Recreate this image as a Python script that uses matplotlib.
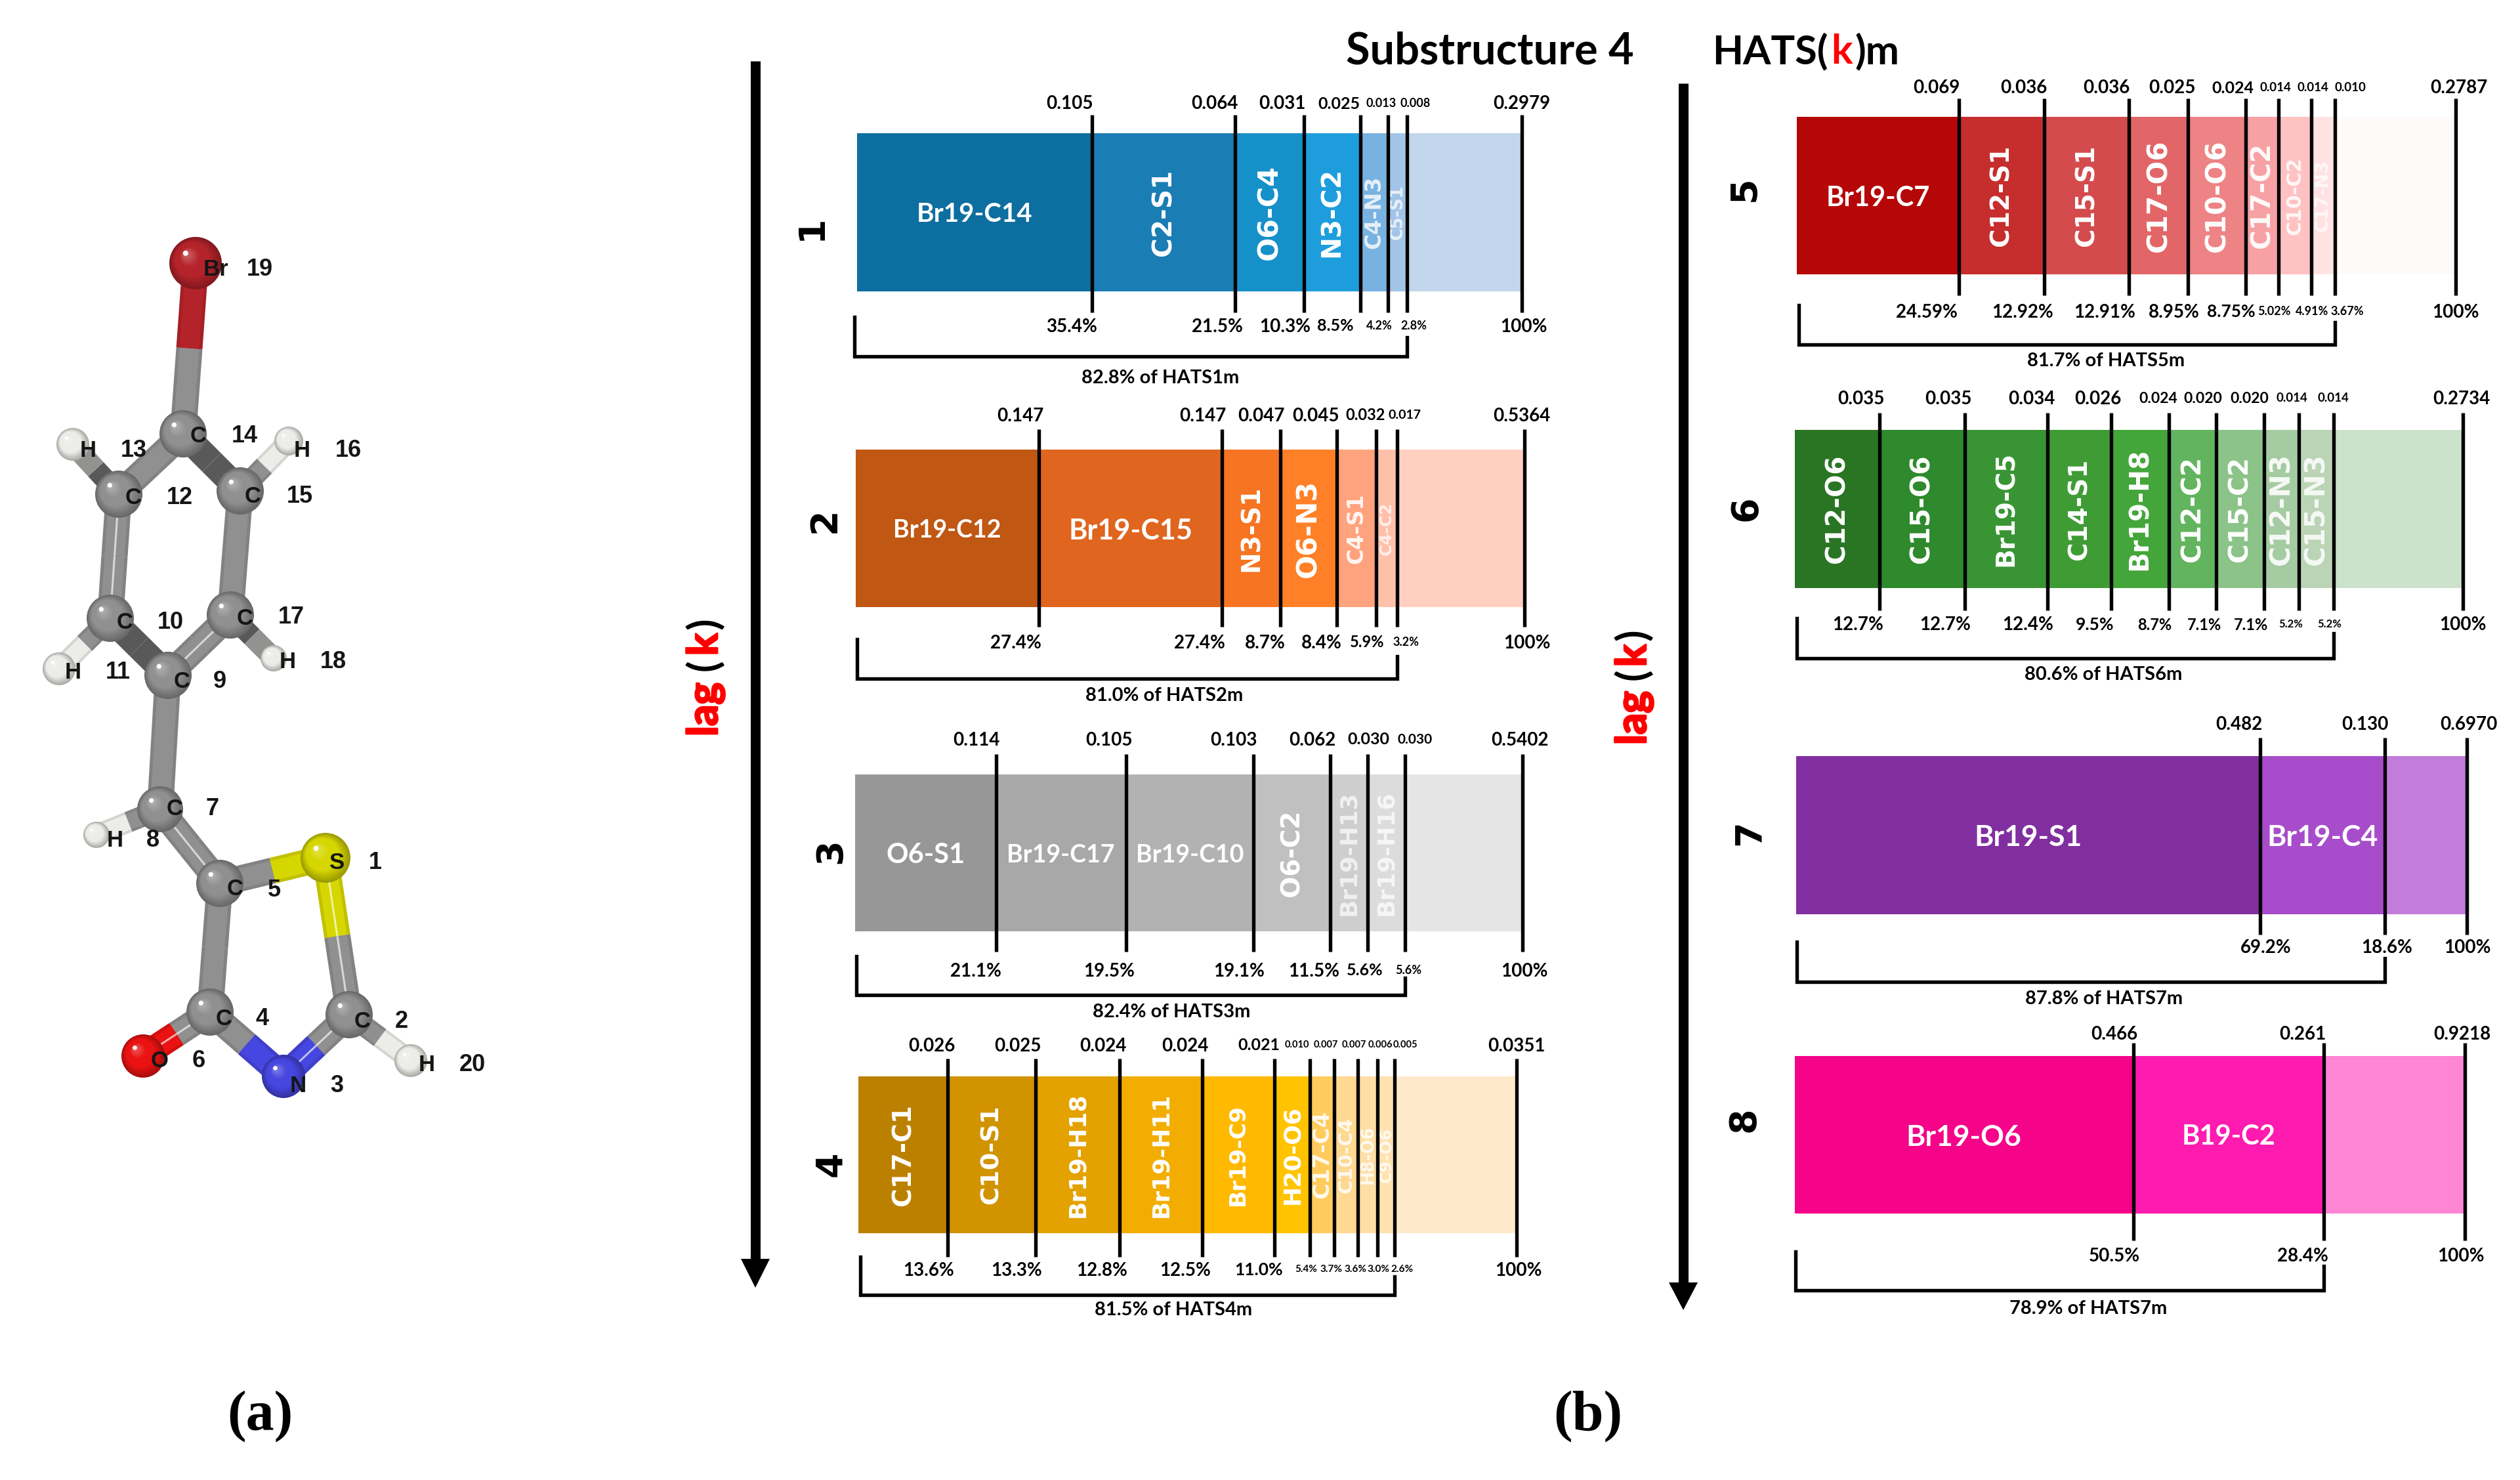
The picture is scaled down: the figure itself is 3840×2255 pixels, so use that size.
import numpy as np
import matplotlib
matplotlib.use('Agg')
import matplotlib.pyplot as plt
import matplotlib.patheffects as pe
from matplotlib.colors import to_rgb
from matplotlib.patches import Circle, Polygon

plt.rcParams['font.family'] = ['Lato', 'DejaVu Sans']

# ---- data ----
pairs1 = ['Br19-C14', 'C2-S1', 'O6-C4', 'N3-C2', 'C4-N3', 'C5-S1']
values1 = ['0.105', '0.064', '0.031', '0.025', '0.013', '0.008']
shares1 = [35.4, 21.5, 10.3, 8.5, 4.2, 2.8]

pairs2 = ['Br19-C12', 'Br19-C15', 'N3-S1', 'O6-N3', 'C4-S1', 'C4-C2']
values2 = ['0.147', '0.147', '0.047', '0.045', '0.032', '0.017']
shares2 = [27.4, 27.4, 8.7, 8.4, 5.9, 3.2]

pairs3 = ['O6-S1', 'Br19-C17', 'Br19-C10', 'O6-C2', 'Br19-H13', 'Br19-H16']
values3 = ['0.114', '0.105', '0.103', '0.062', '0.030', '0.030']
shares3 = [21.1, 19.5, 19.1, 11.5, 5.6, 5.6]

pairs4 = ['C17-C1', 'C10-S1', 'Br19-H18', 'Br19-H11', 'Br19-C9', 'H20-O6', 'C17-C4', 'C10-C4', 'H8-O6', 'C9-O6']
values4 = ['0.026', '0.025', '0.024', '0.024', '0.021', '0.010', '0.007', '0.007', '0.006', '0.005']
shares4 = [13.6, 13.3, 12.8, 12.5, 11.0, 5.4, 3.7, 3.6, 3.0, 2.6]

pairs5 = ['Br19-C7', 'C12-S1', 'C15-S1', 'C17-O6', 'C10-O6', 'C17-C2', 'C10-C2', 'C17-N3']
values5 = ['0.069', '0.036', '0.036', '0.025', '0.024', '0.014', '0.014', '0.010']
shares5 = [24.59, 12.92, 12.91, 8.95, 8.75, 5.02, 4.91, 3.67]

pairs6 = ['C12-O6', 'C15-O6', 'Br19-C5', 'C14-S1', 'Br19-H8', 'C12-C2', 'C15-C2', 'C12-N3', 'C15-N3']
values6 = ['0.035', '0.035', '0.034', '0.026', '0.024', '0.020', '0.020', '0.014', '0.014']
shares6 = [12.7, 12.7, 12.4, 9.5, 8.7, 7.1, 7.1, 5.2, 5.2]

pairs7 = ['Br19-S1', 'Br19-C4']
values7 = ['0.482', '0.130']
shares7 = [69.2, 18.6]

pairs8 = ['Br19-O6', 'B19-C2']
values8 = ['0.466', '0.261']
shares8 = [50.5, 28.4]

totals = ['0.2979', '0.5364', '0.5402', '0.0351', '0.2787', '0.2734', '0.6970', '0.9218']
captions = ['82.8% of HATS1m', '81.0% of HATS2m', '82.4% of HATS3m', '81.5% of HATS4m',
            '81.7% of HATS5m', '80.6% of HATS6m', '87.8% of HATS7m', '78.9% of HATS7m']

# ---- colours ----
colors1 = ['#0D6EA0', '#1A7DB4', '#1690C8', '#1E9DDC', '#78B2E0', '#A2C4E8', '#C1D6EB']
colors2 = ['#C05713', '#E0651E', '#F67422', '#FF8026', '#FFA37E', '#FFC0AA', '#FFCFC0']
colors3 = ['#979797', '#A8A8A8', '#B2B2B2', '#C0C0C0', '#CECECE', '#DCDCDC', '#E5E5E5']
colors4 = ['#BC8000', '#D19300', '#E3A200', '#F2AD00', '#FFB900', '#FFC300', '#FFCB5C', '#FFD891', '#FFDEA6', '#FFE2B0', '#FFE9CB']
colors5 = ['#B50707', '#C62D2D', '#D44B4D', '#E26667', '#ED8385', '#F7A1A4', '#FFC2C2', '#FFE3E3', '#FFFAFA']
colors6 = ['#2A7523', '#2E8A2C', '#399533', '#3F9C35', '#44A63A', '#62B45E', '#8BC388', '#A5CBA2', '#BAD4B5', '#CCE2CB']
colors7 = ['#812FA0', '#A74CCB', '#C17DD9']
colors8 = ['#F50388', '#FF1BB0', '#FF85D5']

# ---- layout, all in pixels of the 3840x2255 picture ----
bar_left = [1305.6, 1304, 1303, 1308, 2738, 2735, 2737, 2735]
bar_right = [2319, 2323, 2320, 2311, 3742, 3753, 3759, 3756]
bar_top = [203, 685, 1180, 1640, 178, 655, 1152, 1609]
bar_bottom = [444, 925, 1419, 1879, 418, 896, 1393, 1849]
tick_top = [175, 654, 1149, 1613, 150, 629, 1124, 1589]
tick_bottom = [476, 955, 1450, 1915, 450, 930, 1424, 1890]
value_y = [156, 631, 1125, 1591, 132, 605, 1102, 1574]
share_y = [495, 977, 1477, 1933, 473, 950, 1442, 1912]
brace_left = [1301.5, 1305.6, 1305, 1310.6, 2741, 2738, 2738, 2735.6]
brace_top = [483, 974, 1457, 1914.5, 465, 942, 1435, 1907]
brace_bottom = [543, 1034, 1516, 1973, 525, 1003, 1496, 1966]
brace_right_top = [514, 1000, 1490, 1945, 491, 965, 1460, 1929]
caption_x = [1768, 1774, 1785, 1788, 3209, 3205, 3206, 3182]
caption_y = [573, 1057, 1539, 1994, 547, 1025, 1519, 1992]
lag_x = [1237, 1257, 1266, 1266, 2659, 2661, 2666, 2658]
lag_y = [347, 793, 1297, 1774, 288, 775, 1269, 1706]

value_x = [[1630, 1851, 1954, 2040, 2105, 2157, 2319],
           [1555, 1833, 1922, 2005, 2081, 2141, 2319],
           [1488, 1690, 1880, 2000, 2085, 2156, 2316],
           [1420, 1551, 1681, 1806, 1918, 1976, 2020, 2063, 2103, 2141, 2311],
           [2951, 3084, 3210, 3310, 3402, 3467, 3524, 3581, 3747],
           [2836, 2969, 3096, 3197, 3289, 3357, 3428, 3492, 3555, 3751],
           [3412, 3604, 3762],
           [3222, 3509, 3752]]
share_x = [[1633, 1855, 1958, 2035, 2102, 2154, 2322],
           [1548, 1828, 1928, 2014, 2083, 2142, 2327],
           [1487, 1690, 1888, 2002, 2080, 2146, 2323],
           [1415, 1549, 1679, 1806, 1918, 1990, 2028, 2065, 2100, 2136, 2314],
           [2936, 3082, 3207, 3313, 3400, 3465, 3523, 3577, 3742],
           [2831, 2964, 3090, 3192, 3283, 3359, 3430, 3491, 3550, 3753],
           [3453, 3637, 3760],
           [3222, 3509, 3750]]
value_size = [[20, 20, 20, 18, 13, 13, 20],
              [20, 20, 20, 20, 17, 14, 20],
              [20, 20, 20, 20, 18, 15, 20],
              [20, 20, 20, 20, 18, 10.5, 10.5, 10.5, 10.5, 10.5, 20],
              [20, 20, 20, 20, 18, 13.5, 13.5, 13.5, 20],
              [20, 20, 20, 20, 16.5, 16.5, 16.5, 13.5, 13.5, 20],
              [20, 20, 20],
              [20, 20, 20]]
share_size = [[20, 20, 20, 18, 13, 13, 20],
              [20, 20, 20, 20, 17, 13, 20],
              [20, 20, 20, 20, 18, 13, 20],
              [20, 20, 20, 20, 19, 11, 11, 11, 11, 11, 20],
              [20, 20, 20, 20, 19, 13, 13, 13, 20],
              [20, 20, 20, 19, 17, 17, 17, 12, 12, 20],
              [20, 20, 20],
              [20, 20, 20]]
pair_size = [[29, 27, 28.5, 27, 22, 17],
             [27, 31, 26, 28.5, 22, 16.5],
             [30, 27, 27, 26, 24, 24],
             [26, 25.5, 24, 24, 23, 24, 22.5, 19.5, 17, 16.5],
             [30, 26, 26, 28, 28, 27, 20, 18],
             [27, 27, 26, 26, 27, 27, 27, 28, 28],
             [32, 32],
             [32, 30]]
pair_alpha = [[1, 1, 1, 1, .8, .75],
              [1, 1, 1, 1, .9, .75],
              [1, 1, 1, 1, .7, .75],
              [1, 1, 1, 1, 1, 1, .9, .85, .8, .8],
              [1, 1, 1, 1, 1, .95, .85, .7],
              [1, 1, 1, 1, 1, 1, 1, .9, .85],
              [1, 1],
              [1, 1]]
flat_pairs = ['Br19-C14', 'Br19-C12', 'Br19-C15', 'O6-S1', 'Br19-C17', 'Br19-C10',
              'Br19-C7', 'Br19-S1', 'Br19-C4', 'Br19-O6', 'B19-C2']

all_pairs = [pairs1, pairs2, pairs3, pairs4, pairs5, pairs6, pairs7, pairs8]
all_values = [values1, values2, values3, values4, values5, values6, values7, values8]
all_shares = [shares1, shares2, shares3, shares4, shares5, shares6, shares7, shares8]
all_colors = [colors1, colors2, colors3, colors4, colors5, colors6, colors7, colors8]

# ---- molecule ----
atom_element = ['Br', 'C', 'C', 'C', 'C', 'C', 'C', 'H', 'H', 'H', 'H', 'C', 'H', 'C', 'S', 'C', 'C', 'N', 'O', 'H']
atom_x = [298, 279, 181, 366, 168, 351, 256, 111, 440, 90, 417, 244, 147, 335, 496, 532, 320, 432, 218, 626]
atom_y = [401, 661, 753, 748, 942, 937, 1029, 677, 672, 1019, 1003, 1233, 1272, 1346, 1307, 1546, 1542, 1640, 1609, 1616]
atom_r = [40, 36, 36, 36, 36, 36, 36, 25, 22, 25, 20, 35, 20, 36, 38, 36, 36, 33, 33, 25]
bond_from = [0, 1, 1, 2, 3, 4, 5, 6, 2, 3, 4, 5, 11, 11, 13, 14, 13, 16, 17, 15, 16]
bond_to = [1, 2, 3, 4, 5, 6, 6, 11, 7, 8, 9, 10, 12, 13, 14, 15, 16, 17, 15, 19, 18]
bond_dark = [0, 0, 1, 0, 0, 1, 0, 0, 1, 0, 0, 1, 0, 0, 0, 0, 0, 0, 0, 0, 0]
bond_double = [0, 0, 0, 1, 0, 0, 1, 0, 0, 0, 0, 0, 0, 1, 0, 1, 0, 0, 1, 0, 1]

element_color = {'C': '#909090', 'H': '#ECECE8', 'Br': '#B5232A', 'S': '#D6D600', 'N': '#4646E0', 'O': '#EA1212'}

label_text = ['Br', 'C', 'H', 'C', 'C', 'H', 'C', 'C', 'H', 'H', 'C', 'C', 'H', 'C', 'S', 'C', 'C', 'O', 'N', 'H']
label_x = [329, 302, 134, 203, 385, 460, 190, 373, 111, 438, 277, 266, 175, 358, 514, 341, 552, 243, 454, 650]
label_y = [411, 665, 687, 759, 756, 686, 948, 942, 1025, 1008, 1039, 1233, 1280, 1355, 1315, 1553, 1556, 1616, 1654, 1623]
number_text = ['19', '14', '13', '12', '15', '16', '10', '17', '11', '18', '9', '7', '8', '5', '1', '4', '2', '6', '3', '20']
number_x = [396, 373, 204, 274, 457, 531, 260, 444, 180, 508, 335, 324, 233, 418, 572, 400, 612, 303, 513, 720]
number_y = [410, 665, 687, 759, 757, 686, 949, 941, 1025, 1008, 1039, 1233, 1280, 1356, 1315, 1553, 1556, 1616, 1654, 1623]


def px(n):
    # matplotlib widths are in points, the layout is in pixels at dpi 100
    return n * 0.72


def shade(color, f):
    r = np.array(to_rgb(color))
    if f < 1:
        return tuple(r * f)
    return tuple(r + (1 - r) * (f - 1))


def drawStick(ax, a, b, color, width, dark, double):
    base = shade(color, 0.62 if dark else 0.9)
    ax.plot([a[0], b[0]], [a[1], b[1]], color=base, lw=px(width), solid_capstyle='butt', zorder=2)
    if not dark:
        ax.plot([a[0], b[0]], [a[1], b[1]], color=color, lw=px(width * 0.75), solid_capstyle='butt', zorder=2)
    if double:
        ax.plot([a[0], b[0]], [a[1], b[1]], color=shade(color, 1.65), lw=px(3), solid_capstyle='butt', zorder=2)


def drawSphere(ax, x, y, r, color):
    ax.add_patch(Circle((x, y), r, color=shade(color, 0.72), lw=0, zorder=3))
    for t in np.linspace(0.96, 0.04, 22):
        off = (1 - t) * r * 0.38
        f = 0.72 + 0.28 * min(1, (1 - t) * 3)
        if t < 0.4:
            f = 1 + (0.4 - t) * 0.9
        ax.add_patch(Circle((x - off, y - off), r * t, color=shade(color, f), lw=0, zorder=3))
    ax.add_patch(Circle((x - r * 0.38, y - r * 0.38), r * 0.1, color='white', lw=0, zorder=3))


def drawMolecule(ax):
    for i, j, dark, double in zip(bond_from, bond_to, bond_dark, bond_double):
        a = (atom_x[i], atom_y[i])
        b = (atom_x[j], atom_y[j])
        mid = ((a[0] + b[0]) / 2, (a[1] + b[1]) / 2)
        width = 32 if 'H' in (atom_element[i], atom_element[j]) else 40
        drawStick(ax, a, mid, element_color[atom_element[i]], width, dark, double)
        drawStick(ax, mid, b, element_color[atom_element[j]], width, dark, double)
    for el, x, y, r in zip(atom_element, atom_x, atom_y, atom_r):
        drawSphere(ax, x, y, r, element_color[el])
    for s, x, y in zip(label_text, label_x, label_y):
        ax.text(x, y, s, family='Liberation Sans', fontsize=25, fontweight='bold', ha='center', va='center', color='#151515', zorder=5)
    for s, x, y in zip(number_text, number_x, number_y):
        ax.text(x, y, s, family='Liberation Sans', fontsize=26, fontweight='bold', ha='center', va='center', color='#151515', zorder=5)


def drawPanel(ax, k):
    x0, x1 = bar_left[k], bar_right[k]
    span = x1 - x0
    edges = x0 + span * np.concatenate(([0], np.cumsum(all_shares[k]), [100])) / 100
    height = bar_bottom[k] - bar_top[k]
    ax.barh(bar_top[k] + height / 2, np.diff(edges), left=edges[:-1], height=height,
            color=all_colors[k], linewidth=0, zorder=1)

    # names inside the bar
    for i, name in enumerate(all_pairs[k]):
        flat = name in flat_pairs
        ax.text((edges[i] + edges[i + 1]) / 2, bar_top[k] + height / 2, name, color='white',
                alpha=pair_alpha[k][i], fontsize=pair_size[k][i] * (1 if flat else 1.08), fontweight='bold',
                family='Lato' if flat else 'DejaVu Sans', rotation=0 if flat else 90,
                ha='center', va='center_baseline' if flat else 'center', zorder=2)

    ax.vlines(edges[1:], tick_top[k], tick_bottom[k], color='black', lw=px(5.4), zorder=3)

    # numbers over and under the bar
    upper = all_values[k] + [totals[k]]
    if k == 4:
        lower = ['%.2f%%' % s for s in all_shares[k]] + ['100%']
    else:
        lower = ['%.1f%%' % s for s in all_shares[k]] + ['100%']
    for s, x, size in zip(upper, value_x[k], value_size[k]):
        ax.text(x, value_y[k], s, fontsize=size, fontweight='bold', ha='center', va='center_baseline')
    for s, x, size in zip(lower, share_x[k], share_size[k]):
        ax.text(x, share_y[k], s, fontsize=size, fontweight='bold', ha='center', va='center_baseline')

    # bracket under the leading pairs
    last = edges[len(all_shares[k])]
    ax.plot([brace_left[k], brace_left[k], last, last],
            [brace_top[k], brace_bottom[k], brace_bottom[k], brace_right_top[k]],
            color='black', lw=px(5.4), solid_joinstyle='miter', zorder=3)
    ax.text(caption_x[k], caption_y[k], captions[k], fontsize=21, fontweight='bold', ha='center', va='center_baseline')

    ax.text(lag_x[k], lag_y[k], str(k + 1), family='DejaVu Sans', fontsize=40, fontweight='bold',
            rotation=90, ha='center', va='center')


def drawArrow(ax, x, top, neck, tip):
    ax.plot([x, x], [top, neck], color='black', lw=px(15), solid_capstyle='butt')
    ax.add_patch(Polygon([(x - 22, neck), (x + 22, neck), (x, tip)], closed=True, color='black', lw=0))


def drawLag(ax, base_x, y_lag, y_open, y_k, y_close):
    style = dict(fontsize=46, fontweight='bold', rotation=90, rotation_mode='anchor', va='baseline')
    thick = [pe.withStroke(linewidth=2, foreground='red')]
    ax.text(base_x, y_lag, 'lag', color='red', ha='left', path_effects=thick, **style)
    ax.text(base_x, y_open, '(', color='black', ha='center', **style)
    ax.text(base_x, y_k, 'k', color='red', ha='center', path_effects=thick, **style)
    ax.text(base_x, y_close, ')', color='black', ha='center', **style)


fig = plt.figure(figsize=(38.4, 22.55), dpi=100)
ax = fig.add_axes([0, 0, 1, 1])

drawMolecule(ax)
for k in range(8):
    drawPanel(ax, k)

drawArrow(ax, 1151, 93, 1918, 1962)
drawArrow(ax, 2565, 127, 1954, 1996)
drawLag(ax, 1093, 1122, 1013, 982, 950)
drawLag(ax, 2508, 1135, 1027, 999, 967)

ax.text(2270, 97, 'Substructure 4', fontsize=48, fontweight='bold', ha='center', va='baseline')
ax.text(2786, 97, 'HATS(', fontsize=44, fontweight='bold', ha='right', va='baseline')
ax.text(2807, 97, 'k', fontsize=44, fontweight='bold', color='red', ha='center', va='baseline')
ax.text(2826, 97, ')m', fontsize=44, fontweight='bold', ha='left', va='baseline')

ax.text(396, 2158, '(a)', family='Liberation Serif', fontsize=62, fontweight='bold', ha='center', va='center')
ax.text(2420, 2158, '(b)', family='Liberation Serif', fontsize=62, fontweight='bold', ha='center', va='center')

ax.set_xlim(0, 3840)
ax.set_ylim(2255, 0)
ax.axis('off')
fig.savefig('out.png', dpi=100, facecolor='white')
